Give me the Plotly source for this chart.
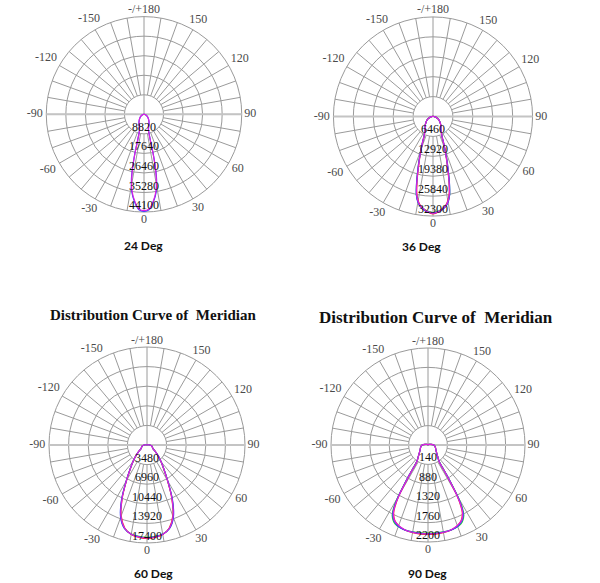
import math
import plotly.graph_objects as go

# ---------------- data ----------------
spoke_angles = list(range(0, 360, 10))
angular_label_vals = [0, 30, 60, 90, 120, 150, 180, 210, 240, 270, 300, 330]
angular_label_text = ["0", "30", "60", "90", "120", "150", "-/+180", "-150", "-120", "-90", "-60", "-30"]

chart_names = ["24 Deg", "36 Deg", "60 Deg", "90 Deg"]
radial_ticks = [
    [8820, 17640, 26460, 35280, 44100],
    [6460, 12920, 19380, 25840, 32300],
    [3480, 6960, 10440, 13920, 17400],
    [440, 880, 1320, 1760, 2200],
]
radial_labels = [
    ["8820", "17640", "26460", "35280", "44100"],
    ["6460", "12920", "19380", "25840", "32300"],
    ["3480", "6960", "10440", "13920", "17400"],
    ["140", "880", "1320", "1760", "2200"],
]

# half-profiles (angle from nadir, degrees) -> intensity, mirrored for the other side
angles_24 = [0, 3, 6, 9, 11, 12, 13, 14, 16, 20, 30, 40, 50, 60, 70, 80, 90, 120, 180]
blue_24 = [43800, 43100, 39900, 35300, 29700, 25200, 19300, 11200, 7400, 6100, 4600, 3300, 2300, 1500, 900, 400, 150, 50, 0]
magenta_24 = [43500, 42800, 39500, 34800, 29000, 24500, 18500, 10500, 7200, 6000, 4500, 3300, 2300, 1500, 900, 400, 150, 50, 0]

angles_36 = [0, 4, 8, 10, 12, 14, 16, 18, 20, 22, 24, 27, 30, 35, 40, 50, 60, 70, 80, 90, 120, 180]
red_36 = [31600, 30800, 29200, 27700, 25300, 21200, 17100, 13800, 11100, 8900, 7200, 6000, 5100, 4400, 4000, 3000, 2200, 1400, 700, 250, 60, 0]
green_36 = [31200, 30600, 29400, 28100, 25900, 21900, 17700, 14300, 11300, 9000, 7300, 6000, 5100, 4400, 4000, 3000, 2200, 1400, 700, 250, 60, 0]
blue_36 = [31300, 30800, 29500, 28200, 26000, 22000, 17800, 14300, 11400, 9100, 7300, 6000, 5100, 4400, 4000, 3000, 2200, 1400, 700, 250, 60, 0]
magenta_36 = [31400, 30700, 29300, 27900, 25600, 21500, 17300, 14000, 11200, 9000, 7300, 6000, 5100, 4400, 4000, 3000, 2200, 1400, 700, 250, 60, 0]

angles_60 = [0, 5, 10, 15, 20, 25, 30, 35, 40, 45, 50, 55, 60, 70, 80, 90, 100, 120, 150, 180]
red_60 = [16600, 16450, 16150, 15250, 13400, 10400, 7250, 5150, 3850, 2900, 2100, 1500, 1200, 1000, 800, 500, 250, 80, 20, 0]
green_60 = [16400, 16300, 16050, 15350, 13600, 10600, 7350, 5200, 3900, 2900, 2100, 1500, 1200, 1000, 800, 500, 250, 80, 20, 0]
blue_60 = [16450, 16350, 16100, 15400, 13700, 10700, 7400, 5250, 3900, 2900, 2100, 1500, 1200, 1000, 800, 500, 250, 80, 20, 0]
magenta_60 = [16500, 16400, 16100, 15300, 13500, 10500, 7300, 5200, 3900, 2900, 2100, 1500, 1200, 1000, 800, 500, 250, 80, 20, 0]

angles_90 = [0, 5, 10, 15, 18, 21, 24, 27, 29, 30, 31, 32, 33.5, 36, 40, 50, 60, 70, 80, 90, 100, 120, 150, 180]
red_90 = [2030, 2030, 2020, 2000, 1975, 1930, 1860, 1710, 1470, 1270, 980, 760, 470, 395, 340, 250, 205, 180, 160, 130, 70, 25, 8, 0]
green_90 = [2000, 2000, 2000, 1995, 1980, 1960, 1910, 1790, 1580, 1380, 1080, 830, 500, 410, 345, 250, 205, 180, 160, 130, 70, 25, 8, 0]
blue_90 = [2010, 2010, 2005, 2000, 1985, 1950, 1890, 1760, 1540, 1340, 1040, 800, 490, 405, 340, 250, 205, 180, 160, 130, 70, 25, 8, 0]
magenta_90 = [2015, 2015, 2010, 1995, 1970, 1930, 1870, 1730, 1500, 1300, 1000, 780, 480, 400, 340, 250, 205, 180, 160, 130, 70, 25, 8, 0]

series = [
    (angles_24, [("#3040ff", blue_24), ("#e020e0", magenta_24)]),
    (angles_36, [("#ff3030", red_36), ("#30d030", green_36), ("#3040ff", blue_36), ("#e020e0", magenta_36)]),
    (angles_60, [("#ff3030", red_60), ("#30d030", green_60), ("#3040ff", blue_60), ("#e020e0", magenta_60)]),
    (angles_90, [("#ff3030", red_90), ("#30d030", green_90), ("#3040ff", blue_90), ("#e020e0", magenta_90)]),
]

# ---------------- layout geometry ----------------
W, H = 600, 583
centers = [(144, 114, 98), (433, 116, 100), (147, 445, 98), (428, 445, 97)]
EXT = 1.17  # radial range extends past the outer ring to leave room for the angle labels

GRID = "#9a9a9a"
SERIF = "Liberation Serif"
CHAR_W = {"-": 5.5, "/": 3.3, "+": 6.8}


def mirror(angles, vals):
    theta = [-a for a in reversed(angles)] + angles[1:]
    r = list(reversed(vals)) + vals[1:]
    return theta, r


def label_radius(text, ang, rad_px, rmax):
    w = sum(CHAR_W.get(c, 6.0) for c in text)
    a = math.radians(ang)
    c = math.cos(a)
    h = 12.0 if c > 0.5 else 9.0   # a little more room below the outer ring
    ext = abs(math.sin(a)) * w * 0.55 + abs(c) * h / 2
    return rmax * (rad_px + 2.0 + ext) / rad_px


fig = go.Figure()
layout_polars = {}
for i in range(4):
    key = "polar" if i == 0 else f"polar{i+1}"
    sub = key
    cx, cy, rad = centers[i]
    rmax = radial_ticks[i][-1]
    r0 = radial_ticks[i][0]
    big = rad * EXT
    layout_polars[key] = dict(
        domain=dict(x=[(cx - big) / W, (cx + big) / W],
                    y=[max(0, 1 - (cy + big) / H), min(1, 1 - (cy - big) / H)]),
        bgcolor="rgba(0,0,0,0)",
        angularaxis=dict(
            rotation=270, direction="counterclockwise",
            showticklabels=False, ticks="", showgrid=False, showline=False,
        ),
        radialaxis=dict(
            range=[0, rmax * EXT], tickmode="array", tickvals=radial_ticks[i],
            showticklabels=False, ticks="", showline=False,
            showgrid=True, gridcolor=GRID, gridwidth=1,
        ),
    )
    # spokes every 10 degrees from the inner ring to the outer ring
    sr, st = [], []
    for a in spoke_angles:
        sr += [r0, rmax, None]
        st += [a, a, None]
    fig.add_trace(go.Scatterpolar(
        r=sr, theta=st, mode="lines", line=dict(color=GRID, width=1),
        subplot=sub, hoverinfo="skip", showlegend=False, connectgaps=False))
    # horizontal axis through the centre (lighter, thicker)
    fig.add_trace(go.Scatterpolar(
        r=[rmax, 0, rmax], theta=[90, 0, 270], mode="lines",
        line=dict(color="#c4c4c4", width=2), subplot=sub,
        hoverinfo="skip", showlegend=False))
    # upper vertical spoke into the hole
    fig.add_trace(go.Scatterpolar(
        r=[r0, 0], theta=[180, 180], mode="lines",
        line=dict(color=GRID, width=1), subplot=sub,
        hoverinfo="skip", showlegend=False))
    # curves
    angs, lst = series[i]
    for color, vals in lst:
        th, rr = mirror(angs, vals)
        fig.add_trace(go.Scatterpolar(
            r=rr, theta=th, mode="lines",
            line=dict(color=color, width=1.2, shape="spline", smoothing=0.8),
            subplot=sub, hoverinfo="skip", showlegend=False))
    # radial labels along the 0 direction
    fig.add_trace(go.Scatterpolar(
        r=radial_ticks[i], theta=[0] * 5, mode="text", text=radial_labels[i],
        textposition="top center",
        textfont=dict(family=SERIF, size=12, color="#111111"),
        subplot=sub, hoverinfo="skip", showlegend=False))
    # angular labels just outside the outer ring
    fig.add_trace(go.Scatterpolar(
        r=[label_radius(t, a, rad, rmax) for t, a in zip(angular_label_text, angular_label_vals)],
        theta=angular_label_vals, mode="text", text=angular_label_text,
        textposition="middle center",
        textfont=dict(family=SERIF, size=12, color="#4a4a4a"),
        subplot=sub, hoverinfo="skip", showlegend=False))

annotations = []
label_pos = [(143.5, 245), (421, 247), (153, 573), (427, 573)]
for name, (x, y) in zip(chart_names, label_pos):
    annotations.append(dict(x=x / W, y=1 - y / H, xref="paper", yref="paper",
                            text=f"<b>{name}</b>", showarrow=False,
                            font=dict(family="Lato", size=12, color="#111111"),
                            xanchor="center", yanchor="middle"))
titles = [("Distribution Curve of\u00a0 Meridian", 153, 315, 15),
          ("Distribution Curve of\u00a0 Meridian", 436, 317, 17)]
for t, x, y, s in titles:
    annotations.append(dict(x=x / W, y=1 - y / H, xref="paper", yref="paper",
                            text=f"<b>{t}</b>", showarrow=False,
                            font=dict(family=SERIF, size=s, color="#111111"),
                            xanchor="center", yanchor="middle"))

fig.update_layout(
    width=W, height=H, margin=dict(l=0, r=0, t=0, b=0),
    paper_bgcolor="white", plot_bgcolor="white", showlegend=False,
    annotations=annotations, **layout_polars)

fig.write_html("out.html", config={"displayModeBar": False},
               post_script="document.body.style.margin='0';")
